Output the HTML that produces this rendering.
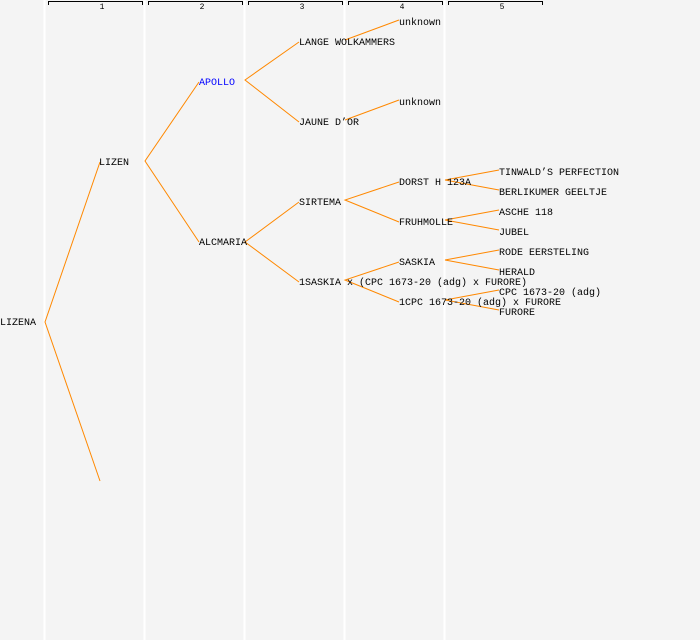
<!DOCTYPE html>
<html><head><meta charset="utf-8"><style>
html,body{margin:0;padding:0;background:#f4f4f4;}
svg{display:block}
text{font-family:"Liberation Mono",monospace;font-size:10px;fill:#000}
.h{font-size:8px}
</style></head><body>
<svg width="700" height="640" xmlns="http://www.w3.org/2000/svg">
<rect width="700" height="640" fill="#f4f4f4"/>
<g stroke="#ffffff" stroke-width="2">
<line x1="44.5" y1="0" x2="44.5" y2="640"/>
<line x1="144.5" y1="0" x2="144.5" y2="640"/>
<line x1="244.5" y1="0" x2="244.5" y2="640"/>
<line x1="344.5" y1="0" x2="344.5" y2="640"/>
<line x1="444.5" y1="0" x2="444.5" y2="640"/>
</g>
<g stroke="#000" fill="none" stroke-width="1">
<path d="M48.5,5 V1.5 H142.5 V5"/>
<path d="M148.5,5 V1.5 H242.5 V5"/>
<path d="M248.5,5 V1.5 H342.5 V5"/>
<path d="M348.5,5 V1.5 H442.5 V5"/>
<path d="M448.5,5 V1.5 H542.5 V5"/>
</g>
<g class="h" text-anchor="middle">
<text class="h" x="102" y="9">1</text>
<text class="h" x="202" y="9">2</text>
<text class="h" x="302" y="9">3</text>
<text class="h" x="402" y="9">4</text>
<text class="h" x="502" y="9">5</text>
</g>
<g stroke="#ff8800" stroke-width="1" fill="none">
<path d="M100,162 L45,322 L100,481"/>
<path d="M199,82 L145,161 L199,242"/>
<path d="M299,42 L245,80 L299,122"/>
<path d="M299,202 L245,242 L299,282"/>
<path d="M399,20 L345,40"/>
<path d="M399,100 L345,120"/>
<path d="M399,182 L345,200 L399,222"/>
<path d="M399,262 L345,280 L399,302"/>
<path d="M499,170 L445,180 L499,190"/>
<path d="M499,210 L445,220 L499,230"/>
<path d="M499,250 L445,260 L499,270"/>
<path d="M499,290 L445,300 L499,310"/>
</g>
<text x="0" y="325">LIZENA</text>
<text x="99" y="165">LIZEN</text>
<text x="199" y="85" style="fill:#0000ff">APOLLO</text>
<text x="199" y="245">ALCMARIA</text>
<text x="299" y="45">LANGE WOLKAMMERS</text>
<text x="299" y="125">JAUNE D’OR</text>
<text x="299" y="205">SIRTEMA</text>
<text x="299" y="285">1SASKIA x (CPC 1673-20 (adg) x FURORE)</text>
<text x="399" y="25">unknown</text>
<text x="399" y="105">unknown</text>
<text x="399" y="185">DORST H 123A</text>
<text x="399" y="225">FRUHMOLLE</text>
<text x="399" y="265">SASKIA</text>
<text x="399" y="305">1CPC 1673-20 (adg) x FURORE</text>
<text x="499" y="175">TINWALD’S PERFECTION</text>
<text x="499" y="195">BERLIKUMER GEELTJE</text>
<text x="499" y="215">ASCHE 118</text>
<text x="499" y="235">JUBEL</text>
<text x="499" y="255">RODE EERSTELING</text>
<text x="499" y="275">HERALD</text>
<text x="499" y="295">CPC 1673-20 (adg)</text>
<text x="499" y="315">FURORE</text>
</svg>
</body></html>
